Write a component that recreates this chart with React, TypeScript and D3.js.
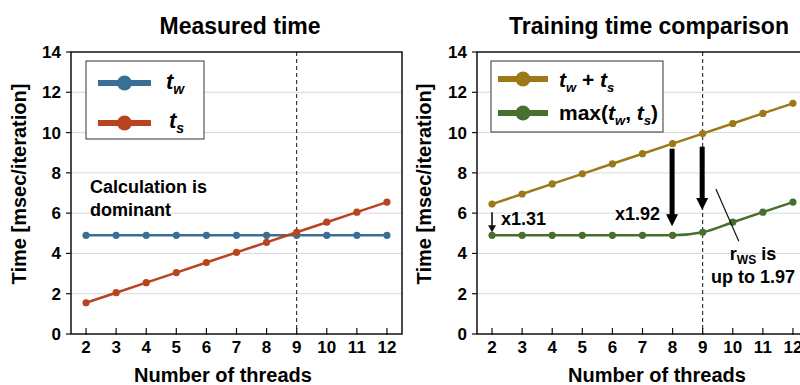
import React from "react";
import * as d3 from "d3";

const threads = [2, 3, 4, 5, 6, 7, 8, 9, 10, 11, 12];
const tw = [4.9, 4.9, 4.9, 4.9, 4.9, 4.9, 4.9, 4.9, 4.9, 4.9, 4.9];
const ts = [1.55, 2.05, 2.55, 3.05, 3.55, 4.05, 4.55, 5.05, 5.55, 6.05, 6.55];
const sumTs = [6.45, 6.95, 7.45, 7.95, 8.45, 8.95, 9.45, 9.95, 10.45, 10.95, 11.45];
const maxTs = [4.9, 4.9, 4.9, 4.9, 4.9, 4.9, 4.9, 5.05, 5.55, 6.05, 6.55];
const yTicks = [0, 2, 4, 6, 8, 10, 12, 14];

const FONT = "Arial, 'Liberation Sans', Helvetica, sans-serif";
const C_BLUE = "#3a6f95";
const C_RED = "#b8441f";
const C_GOLD = "#9c7916";
const C_GREEN = "#476f2d";

const TOP = 52;
const BOTTOM = 334;
const PW = 331;

function Panel({ x0, title, titleX, xLabelX, yLabelX, series, children }: any) {
  const x = d3.scaleLinear().domain([1.5, 12.5]).range([x0, x0 + PW]);
  const y = d3.scaleLinear().domain([0, 14]).range([BOTTOM, TOP]);
  return (
    <g>
      <text x={titleX} y={34} textAnchor="middle" fontSize={23} fontWeight="bold" fontFamily={FONT}>
        {title}
      </text>
      {yTicks.filter((t) => t > 0 && t < 14).map((t) => (
        <line key={"g" + t} x1={x0} x2={x0 + PW} y1={y(t)} y2={y(t)} stroke="#d9d9d9" strokeWidth={1} />
      ))}
      <rect x={x0} y={TOP} width={PW} height={BOTTOM - TOP} fill="none" stroke="#111" strokeWidth={1.5} />
      {yTicks.map((t) => (
        <g key={"y" + t}>
          <line x1={x0 - 5} x2={x0} y1={y(t)} y2={y(t)} stroke="#111" strokeWidth={1.2} />
          <text x={x0 - 10} y={y(t) + 6} textAnchor="end" fontSize={17} fontWeight="bold" fontFamily={FONT}>
            {t}
          </text>
        </g>
      ))}
      {threads.map((t) => (
        <g key={"x" + t}>
          <line x1={x(t)} x2={x(t)} y1={BOTTOM - 6} y2={BOTTOM + 1} stroke="#111" strokeWidth={1.2} />
          <text x={x(t)} y={353} textAnchor="middle" fontSize={17} fontWeight="bold" fontFamily={FONT}>
            {t}
          </text>
        </g>
      ))}
      <line x1={x(9)} x2={x(9)} y1={TOP} y2={BOTTOM} stroke="#111" strokeWidth={1} strokeDasharray="4,3" />
      <text x={xLabelX} y={382} textAnchor="middle" fontSize={20} fontWeight="bold" fontFamily={FONT}>
        Number of threads
      </text>
      <text
        transform={`translate(${yLabelX},184) rotate(-90)`}
        textAnchor="middle"
        fontSize={20}
        fontWeight="bold"
        fontFamily={FONT}
      >
        Time [msec/iteration]
      </text>
      {series.map((s: any, i: number) => {
        const pts = threads.map((t, j) => [x(t), y(s.values[j])] as [number, number]);
        const line = d3.line().curve(s.curve || d3.curveLinear);
        return (
          <g key={"s" + i}>
            <path d={line(pts) || ""} fill="none" stroke={s.color} strokeWidth={2.5} />
            {pts.map((p, j) => (
              <circle key={j} cx={p[0]} cy={p[1]} r={3.6} fill={s.color} />
            ))}
          </g>
        );
      })}
      {children && children(x, y)}
    </g>
  );
}

function LegendItem({ x1, x2, y, color }: any) {
  return (
    <g>
      <line x1={x1} x2={x2} y1={y} y2={y} stroke={color} strokeWidth={6} />
      <circle cx={(x1 + x2) / 2} cy={y} r={7.5} fill={color} />
    </g>
  );
}

export default function App() {
  return (
    <svg
      width={800}
      height={385}
      style={{ position: "absolute", left: 0, top: 0, background: "#fff" }}
      fontFamily={FONT}
    >
      <rect width={800} height={385} fill="#fff" />
      <Panel
        x0={71}
        title="Measured time"
        titleX={240}
        xLabelX={223}
        yLabelX={26}
        series={[
          { values: tw, color: C_BLUE },
          { values: ts, color: C_RED },
        ]}
      >
        {() => (
          <g>
            <rect x={86} y={61} width={118} height={78} fill="#fff" stroke="#333" strokeWidth={1} />
            <LegendItem x1={98} x2={151} y={83} color={C_BLUE} />
            <LegendItem x1={98} x2={151} y={123} color={C_RED} />
            <text x={166} y={89} fontSize={22} fontWeight="bold" fontStyle="italic">
              t<tspan fontSize={14} dy={5}>w</tspan>
            </text>
            <text x={169} y={128} fontSize={22} fontWeight="bold" fontStyle="italic">
              t<tspan fontSize={14} dy={5}>s</tspan>
            </text>
            <text x={90} y={193} fontSize={18} fontWeight="bold">
              Calculation is
            </text>
            <text x={90} y={216} fontSize={18} fontWeight="bold">
              dominant
            </text>
          </g>
        )}
      </Panel>
      <Panel
        x0={477}
        title="Training time comparison"
        titleX={649}
        xLabelX={657}
        yLabelX={431}
        series={[
          { values: sumTs, color: C_GOLD },
          { values: maxTs, color: C_GREEN, curve: d3.curveMonotoneX },
        ]}
      >
        {(x: any, y: any) => (
          <g>
            <rect x={491} y={61} width={172} height={71} fill="#fff" stroke="#333" strokeWidth={1} />
            <LegendItem x1={498} x2={548} y={79} color={C_GOLD} />
            <LegendItem x1={498} x2={548} y={113} color={C_GREEN} />
            <text x={559} y={87} fontSize={21} fontWeight="bold">
              <tspan fontStyle="italic">t</tspan>
              <tspan fontStyle="italic" fontSize={13} dy={5}>w</tspan>
              <tspan dy={-5}> + </tspan>
              <tspan fontStyle="italic">t</tspan>
              <tspan fontStyle="italic" fontSize={13} dy={5}>s</tspan>
            </text>
            <text x={559} y={120} fontSize={21} fontWeight="bold">
              max(<tspan fontStyle="italic">t</tspan>
              <tspan fontStyle="italic" fontSize={13} dy={5}>w</tspan>
              <tspan dy={-5}>, </tspan>
              <tspan fontStyle="italic">t</tspan>
              <tspan fontStyle="italic" fontSize={13} dy={5}>s</tspan>
              <tspan dy={-5}>)</tspan>
            </text>
            {/* small arrow at 2 threads */}
            <line x1={x(2)} x2={x(2)} y1={y(6.05)} y2={y(5.3)} stroke="#111" strokeWidth={1.6} />
            <path
              d={`M${x(2) - 4},${y(5.4)} L${x(2) + 4},${y(5.4)} L${x(2)},${y(5.05)} Z`}
              fill="#111"
            />
            <text x={501} y={225} fontSize={18} fontWeight="bold">
              x1.31
            </text>
            {/* thick arrows */}
            {[
              [8, 9.2, 5.35],
              [9, 9.3, 6.15],
            ].map(([t, y0, y1], i) => (
              <g key={"a" + i}>
                <line x1={x(t) - 0.5} x2={x(t) - 0.5} y1={y(y0)} y2={y(y1) - 10} stroke="#000" strokeWidth={5} />
                <path
                  d={`M${x(t) - 6.5},${y(y1) - 12} L${x(t) + 5.5},${y(y1) - 12} L${x(t) - 0.5},${y(y1)} Z`}
                  fill="#000"
                />
              </g>
            ))}
            <text x={660} y={220} textAnchor="end" fontSize={18} fontWeight="bold">
              x1.92
            </text>
            <line x1={x(9.44)} y1={y(7.2)} x2={x(10.2)} y2={y(4.6)} stroke="#111" strokeWidth={1.2} />
            <text x={753} y={260} textAnchor="middle" fontSize={18} fontWeight="bold">
              r<tspan fontSize={12} dy={4}>WS</tspan>
              <tspan dy={-4}> is</tspan>
            </text>
            <text x={753} y={283} textAnchor="middle" fontSize={18} fontWeight="bold">
              up to 1.97
            </text>
          </g>
        )}
      </Panel>
    </svg>
  );
}
